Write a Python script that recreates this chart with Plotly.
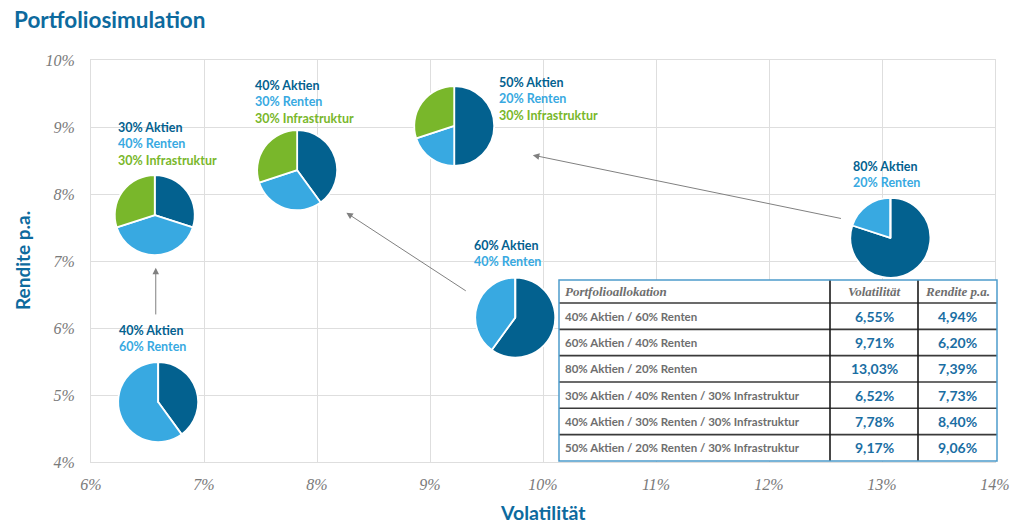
import plotly.graph_objects as go

# ---------------- data ----------------
portfolios = [
    "40% Aktien / 60% Renten",
    "60% Aktien / 40% Renten",
    "80% Aktien / 20% Renten",
    "30% Aktien / 40% Renten / 30% Infrastruktur",
    "40% Aktien / 30% Renten / 30% Infrastruktur",
    "50% Aktien / 20% Renten / 30% Infrastruktur",
]
aktien = [40, 60, 80, 30, 40, 50]
renten = [60, 40, 20, 40, 30, 20]
infrastruktur = [0, 0, 0, 30, 30, 30]
volatilitaet = [6.55, 9.71, 13.03, 6.52, 7.78, 9.17]
rendite = [4.94, 6.20, 7.39, 7.73, 8.40, 9.06]
asset_names = ["Aktien", "Renten", "Infrastruktur"]
x_ticks = [6, 7, 8, 9, 10, 11, 12, 13, 14]
y_ticks = [4, 5, 6, 7, 8, 9, 10]
table_header = ["Portfolioallokation", "Volatilität", "Rendite p.a."]
# arrows between portfolios (tail -> head, in data units)
arrow_tail = [(6.573, 6.18), (9.33, 6.54), (12.65, 7.63)]
arrow_head = [(6.573, 6.90), (8.26, 7.72), (9.91, 8.58)]

# ---------------- style / layout ----------------
W, H = 1024, 529
ML, MR, MT, MB = 91, 29, 60, 67
PW, PH = W - ML - MR, H - MT - MB
XR = (x_ticks[0], x_ticks[-1])
YR = (y_ticks[0], y_ticks[-1])

C_AKT = "#03618f"
C_REN = "#38a9e1"
C_INF = "#79b72b"
C_TITLE = "#0d6a9e"
C_TICK = "#7a7a7a"
C_NUM = "#1a6ea3"
C_TXT = "#6e6e6e"
GRID = "#dedede"

PIE_R = 40
PIE_DX, PIE_DY = 5, 3  # small pixel nudge of the pies
label_offsets = [(-36, 61), (-38, 61), (-34, 60), (-34, 68), (-39, 65), (48, 24)]

# table geometry in pixels
TAB_COLS = [559, 830, 918, 997]
TAB_TOP = 280
TAB_HEAD_H = 23
TAB_ROW_H = 26.33


def px2fx(px):
    return (px - ML) / PW


def py2fy(py):
    return (H - MB - py) / PH


def fmt(v):
    return f"{v:.2f}".replace(".", ",") + "%"


fig = go.Figure()

# invisible anchor trace to establish the cartesian axes
fig.add_trace(go.Scatter(x=volatilitaet, y=rendite, mode="markers",
                         marker=dict(size=1, color="rgba(0,0,0,0)"),
                         hoverinfo="skip", showlegend=False))

# pies
for i in range(len(portfolios)):
    fx = (volatilitaet[i] - XR[0]) / (XR[1] - XR[0]) + PIE_DX / PW
    fy = (rendite[i] - YR[0]) / (YR[1] - YR[0]) - PIE_DY / PH
    rx, ry = PIE_R / PW, PIE_R / PH
    vals = [aktien[i], renten[i], infrastruktur[i]]
    fig.add_trace(go.Pie(
        values=vals, labels=asset_names, sort=False, direction="clockwise",
        rotation=0, textinfo="none", hoverinfo="label+percent",
        marker=dict(colors=[C_AKT, C_REN, C_INF], line=dict(color="white", width=1.8)),
        domain=dict(x=[fx - rx, fx + rx], y=[fy - ry, fy + ry]),
        showlegend=False,
    ))

# labels
annotations = []
for i in range(len(portfolios)):
    parts = [f"<span style='color:{C_AKT}'>{aktien[i]}% Aktien</span>",
             f"<span style='color:{C_REN}'>{renten[i]}% Renten</span>"]
    if infrastruktur[i]:
        parts.append(f"<span style='color:{C_INF}'>{infrastruktur[i]}% Infrastruktur</span>")
    dx, dy = label_offsets[i]
    annotations.append(dict(
        x=volatilitaet[i], y=rendite[i], xref="x", yref="y",
        text="<br>".join(parts), showarrow=False, align="left",
        xanchor="left", yanchor="middle", xshift=dx, yshift=dy,
        font=dict(family="Lato", size=12.5, weight="bold"),
    ))

for (tx, ty), (hx, hy) in zip(arrow_tail, arrow_head):
    annotations.append(dict(
        x=hx, y=hy, ax=tx, ay=ty, xref="x", yref="y", axref="x", ayref="y",
        text="", showarrow=True, arrowhead=2, arrowsize=1.3, arrowwidth=1,
        arrowcolor="#808080",
    ))

# axis titles
annotations.append(dict(text="<b>Rendite p.a.</b>", xref="paper", yref="paper",
                        x=px2fx(22), y=0.5, showarrow=False, textangle=-90,
                        xanchor="center", yanchor="middle",
                        font=dict(family="Lato", size=19, color=C_TITLE)))
annotations.append(dict(text="<b>Volatilität</b>", xref="paper", yref="paper",
                        x=0.5, y=py2fy(512), showarrow=False,
                        xanchor="center", yanchor="middle",
                        font=dict(family="Lato", size=19.5, color=C_TITLE)))

# ---------------- table (shapes + text) ----------------
n_rows = len(portfolios)
row_edges = [TAB_TOP, TAB_TOP + TAB_HEAD_H] + [TAB_TOP + TAB_HEAD_H + TAB_ROW_H * (k + 1) for k in range(n_rows)]
tab_bottom = row_edges[-1]
shapes = []
# white background
shapes.append(dict(type="rect", xref="paper", yref="paper",
                   x0=px2fx(TAB_COLS[0]), x1=px2fx(TAB_COLS[-1]),
                   y0=py2fy(tab_bottom), y1=py2fy(TAB_TOP),
                   fillcolor="white", line=dict(width=0), layer="above"))
# horizontal separators
for ye in row_edges[1:-1]:
    shapes.append(dict(type="line", xref="paper", yref="paper",
                       x0=px2fx(TAB_COLS[0]), x1=px2fx(TAB_COLS[-1]),
                       y0=py2fy(ye), y1=py2fy(ye),
                       line=dict(color="#3a3a3a", width=1.6), layer="above"))
# vertical separators
for xe in TAB_COLS[1:-1]:
    shapes.append(dict(type="line", xref="paper", yref="paper",
                       x0=px2fx(xe), x1=px2fx(xe),
                       y0=py2fy(tab_bottom), y1=py2fy(TAB_TOP),
                       line=dict(color="#1a1a1a", width=1.6), layer="above"))
# outer border
shapes.append(dict(type="rect", xref="paper", yref="paper",
                   x0=px2fx(TAB_COLS[0]), x1=px2fx(TAB_COLS[-1]),
                   y0=py2fy(tab_bottom), y1=py2fy(TAB_TOP),
                   fillcolor="rgba(0,0,0,0)", line=dict(color="#4d9ccb", width=1.5), layer="above"))

# header texts
for c, h in enumerate(table_header):
    yc = (row_edges[0] + row_edges[1]) / 2
    if c == 0:
        xa, xpos = "left", TAB_COLS[0] + 4
    else:
        xa, xpos = "center", (TAB_COLS[c] + TAB_COLS[c + 1]) / 2
    annotations.append(dict(text=f"<b><i>{h}</i></b>", xref="paper", yref="paper",
                            x=px2fx(xpos), y=py2fy(yc), xanchor=xa, yanchor="middle",
                            showarrow=False,
                            font=dict(family="Liberation Serif", size=13, color=C_TXT)))
# body texts
for r in range(n_rows):
    yc = (row_edges[r + 1] + row_edges[r + 2]) / 2
    annotations.append(dict(text=f"<b>{portfolios[r]}</b>", xref="paper", yref="paper",
                            x=px2fx(TAB_COLS[0] + 4), y=py2fy(yc), xanchor="left", yanchor="middle",
                            showarrow=False,
                            font=dict(family="Lato", size=11.5, color=C_TXT)))
    for c, v in ((1, volatilitaet[r]), (2, rendite[r])):
        annotations.append(dict(text=f"<b>{fmt(v)}</b>", xref="paper", yref="paper",
                                x=px2fx((TAB_COLS[c] + TAB_COLS[c + 1]) / 2), y=py2fy(yc),
                                xanchor="center", yanchor="middle", showarrow=False,
                                font=dict(family="Lato", size=14, color=C_NUM)))

fig.update_layout(
    width=W, height=H,
    margin=dict(l=ML, r=MR, t=MT, b=MB),
    paper_bgcolor="white", plot_bgcolor="white",
    title=dict(text="<b>Portfoliosimulation</b>", x=14 / W, xanchor="left",
               y=1 - 20 / H, yanchor="middle", xref="container", yref="container",
               font=dict(family="Lato", size=22.5, color=C_TITLE)),
    xaxis=dict(range=list(XR), tickvals=x_ticks, ticktext=[f"{t}%" for t in x_ticks],
               showgrid=True, gridcolor=GRID, gridwidth=1, zeroline=False,
               showline=True, linecolor=GRID, linewidth=1, mirror=True,
               ticks="outside", ticklen=8, tickcolor="rgba(0,0,0,0)",
               tickfont=dict(family="Liberation Serif", size=16, color=C_TICK, style="italic"),
               fixedrange=True),
    yaxis=dict(range=list(YR), tickvals=y_ticks, ticktext=[f"{t}%" for t in y_ticks],
               showgrid=True, gridcolor=GRID, gridwidth=1, zeroline=False,
               showline=True, linecolor=GRID, linewidth=1, mirror=True,
               ticks="outside", ticklen=12, tickcolor="rgba(0,0,0,0)",
               tickfont=dict(family="Liberation Serif", size=16, color=C_TICK, style="italic"),
               fixedrange=True),
    annotations=annotations,
    shapes=shapes,
    showlegend=False,
)

fig.write_html("out.html")
